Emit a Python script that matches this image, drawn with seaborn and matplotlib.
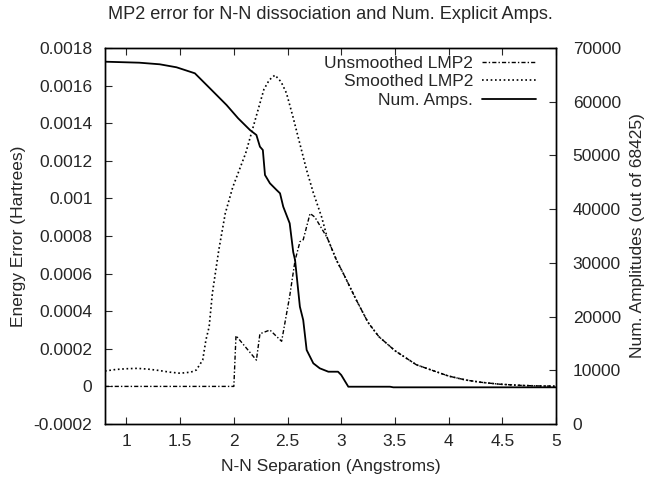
import numpy as np
import pandas as pd
import matplotlib
matplotlib.use("Agg")
import matplotlib.pyplot as plt
import seaborn as sns

# Smoothed LMP2 error (Hartrees)
smooth_x = [0.8, 0.9, 1.0, 1.1, 1.2, 1.3, 1.4, 1.5, 1.6, 1.65, 1.71, 1.74, 1.77,
            1.80, 1.86, 1.92, 1.99, 2.05, 2.11, 2.20, 2.28, 2.33, 2.383, 2.44, 2.49,
            2.55, 2.615, 2.678, 2.74, 2.818, 2.87, 2.957, 3.02, 3.14, 3.25, 3.35, 3.5,
            3.7, 3.85, 4.0, 4.16, 4.3, 4.47, 4.65, 4.8, 5.0]
smooth_err = [0.82e-4, 0.90e-4, 0.94e-4, 0.96e-4, 0.92e-4, 0.85e-4, 0.76e-4, 0.70e-4,
              0.76e-4, 0.87e-4, 1.4e-4, 2.47e-4, 3.17e-4, 4.95e-4, 7.26e-4, 9.2e-4,
              10.6e-4, 11.5e-4, 12.4e-4, 14.2e-4, 15.8e-4, 16.3e-4, 16.56e-4, 16.2e-4,
              15.6e-4, 14.35e-4, 12.9e-4, 11.5e-4, 10.3e-4, 9.0e-4, 7.9e-4, 6.7e-4,
              6.0e-4, 4.6e-4, 3.4e-4, 2.65e-4, 1.9e-4, 1.15e-4, 0.85e-4, 0.55e-4,
              0.34e-4, 0.22e-4, 0.12e-4, 0.06e-4, 0.03e-4, 0.01e-4]

# Unsmoothed LMP2 error (Hartrees)
raw_x = [0.8, 1.5, 2.0, 2.02, 2.21, 2.243, 2.29, 2.336, 2.39, 2.445, 2.52, 2.57,
         2.616, 2.646, 2.71, 2.755, 2.87, 2.957, 3.02, 3.14, 3.25, 3.35, 3.5, 3.7,
         3.85, 4.0, 4.16, 4.3, 4.47, 4.65, 4.8, 5.0]
raw_err = [0.0, 0.0, 0.0, 2.7e-4, 1.4e-4, 2.8e-4, 2.9e-4, 3.0e-4, 2.7e-4, 2.4e-4,
           4.8e-4, 6.7e-4, 7.7e-4, 7.8e-4, 9.2e-4, 9.0e-4, 7.9e-4, 6.7e-4, 6.0e-4,
           4.6e-4, 3.4e-4, 2.65e-4, 1.9e-4, 1.15e-4, 0.85e-4, 0.55e-4, 0.34e-4,
           0.22e-4, 0.12e-4, 0.06e-4, 0.03e-4, 0.01e-4]

# Number of explicit amplitudes
amps_x = [0.8, 1.12, 1.31, 1.466, 1.637, 1.777, 1.932, 2.04, 2.15, 2.21, 2.243, 2.27,
          2.29, 2.336, 2.398, 2.43, 2.46, 2.52, 2.553, 2.57, 2.615, 2.646, 2.678,
          2.74, 2.8, 2.88, 2.97, 3.0, 3.066, 3.454, 3.485, 5.0]
amps = [67450, 67264, 66966, 66408, 65290, 62498, 59388, 56912, 54734, 53803, 51625,
        51011, 46356, 44813, 43564, 42950, 40455, 37364, 32000, 30532, 21838, 19355,
        13777, 11301, 10370, 9737, 9737, 9122, 6944, 6944, 6830, 6830]

sns.set_style("ticks")
plt.rcParams['font.family'] = ['Liberation Sans', 'DejaVu Sans']
plt.rcParams['font.size'] = 12.5
plt.rcParams['xtick.direction'] = 'in'
plt.rcParams['ytick.direction'] = 'in'

fig = plt.figure(figsize=(6.5, 4.79), dpi=100)
ax = fig.add_axes([0.1615, 0.1148, 0.6939, 0.785])
ax2 = ax.twinx()

df_raw = pd.DataFrame({'x': raw_x, 'y': raw_err})
df_smooth = pd.DataFrame({'x': smooth_x, 'y': smooth_err})
df_amps = pd.DataFrame({'x': amps_x, 'y': amps})

sns.lineplot(data=df_raw, x='x', y='y', ax=ax, color='black', lw=1.0,
             linestyle=(0, (3, 1.5, 1, 1.5)), estimator=None, label='Unsmoothed LMP2')
sns.lineplot(data=df_smooth, x='x', y='y', ax=ax, color='black', lw=1.2,
             linestyle=(0, (1, 1.6)), estimator=None, label='Smoothed LMP2')
sns.lineplot(data=df_amps, x='x', y='y', ax=ax2, color='black', lw=1.3,
             estimator=None, label='Num. Amps.')

ax.set_xlim(0.8, 5)
ax.set_ylim(-0.0002, 0.0018)
ax2.set_ylim(0, 70000)

ax.set_xticks([1, 1.5, 2, 2.5, 3, 3.5, 4, 4.5, 5])
ax.set_xticklabels(['1', '1.5', '2', '2.5', '3', '3.5', '4', '4.5', '5'])
yt = np.arange(-0.0002, 0.00181, 0.0002)
ax.set_yticks(yt)
ax.set_yticklabels([f'{np.round(v, 6):g}' for v in yt])
ax2.set_yticks(np.arange(0, 70001, 10000))

ax.tick_params(axis='x', top=True, length=5, width=0.8, pad=7)
ax.tick_params(axis='y', right=False, length=5, width=0.8, pad=9)
ax2.tick_params(axis='y', length=5, width=0.8, pad=12)
for a in (ax, ax2):
    for s in a.spines.values():
        s.set_visible(True)
        s.set_linewidth(1.0)
        s.set_color('black')

ax.set_xlabel('N-N Separation (Angstroms)')
ax.set_ylabel('Energy Error (Hartrees)')
ax2.set_ylabel('Num. Amplitudes (out of 68425)')
ax.xaxis.set_label_coords(0.5, -0.093)
ax.yaxis.set_label_coords(-0.175, 0.5)
ax2.yaxis.set_label_coords(1.164, 0.5)
fig.suptitle('MP2 error for N-N dissociation and Num. Explicit Amps.',
             x=0.509, y=0.987, fontsize=13.1)

ax.get_legend().remove()
h1, l1 = ax.get_legend_handles_labels()
h2, l2 = ax2.get_legend_handles_labels()
ax2.legend(h1 + h2, l1 + l2, loc='upper right', bbox_to_anchor=(0.97, 0.998),
           frameon=False, markerfirst=False, handlelength=3.1, labelspacing=0.2,
           borderaxespad=0, handletextpad=0.5)

fig.savefig('out.png', dpi=100)
